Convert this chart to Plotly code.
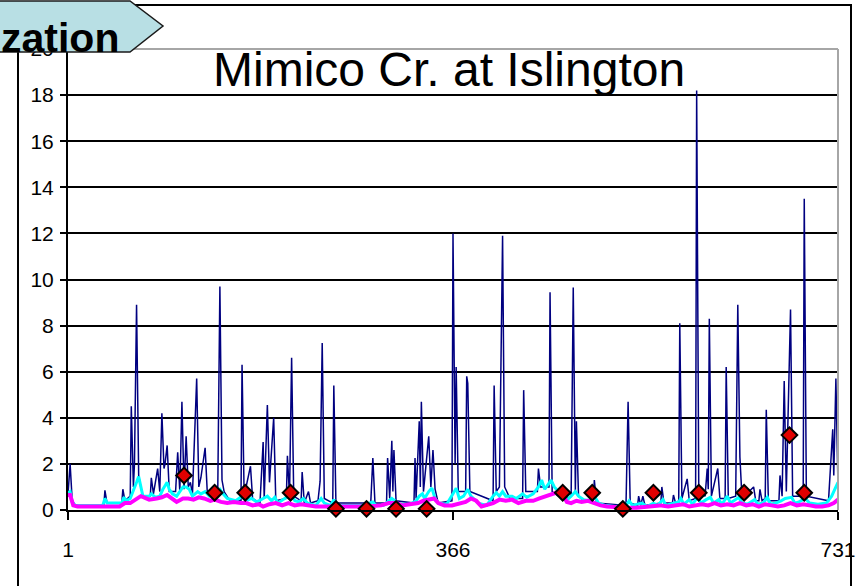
import plotly.graph_objects as go

# Daily flow (m3/s) vertices for the total streamflow hydrograph
flow_day = [1, 3, 5, 8, 35, 36, 38, 52, 53, 55, 60, 61, 63, 64, 66, 68, 70, 72, 79, 80,
            82, 86, 88, 90, 92, 93, 95, 97, 103, 105, 107, 109, 111, 113, 115, 117, 119, 123, 125, 127,
            131, 133, 143, 145, 147, 149, 153, 155, 165, 166, 168, 174, 176, 183, 186, 187, 190, 192, 196, 198,
            208, 209, 211, 213, 215, 222, 223, 225, 229, 231, 238, 240, 242, 244, 252, 253, 255, 288, 290, 292,
            303, 304, 306, 308, 309, 310, 312, 329, 330, 331, 334, 335, 336, 338, 343, 345, 347, 349, 352, 365,
            366, 368, 369, 371, 378, 379, 380, 382, 404, 405, 407, 410, 413, 415, 420, 432, 433, 435, 446, 447,
            449, 457, 458, 460, 466, 469, 476, 478, 480, 482, 483, 485, 490, 499, 500, 502, 530, 532, 534, 541,
            542, 544, 546, 548, 563, 564, 566, 574, 575, 577, 580, 581, 583, 588, 590, 596, 597, 599, 605, 607,
            608, 609, 611, 617, 619, 624, 625, 627, 634, 636, 638, 640, 651, 653, 656, 657, 659, 662, 663, 665,
            675, 676, 678, 680, 682, 686, 688, 698, 699, 701, 722, 726, 727, 729, 731]
flow_val = [0.7, 2.0, 0.4, 0.2, 0.2, 0.85, 0.3, 0.3, 0.9, 0.4, 0.6, 4.5, 1.0, 2.0, 8.9, 1.5, 1.0, 0.6, 0.6, 1.4,
            0.7, 1.8, 0.8, 4.2, 1.8, 2.0, 2.8, 0.8, 0.8, 2.5, 0.8, 4.7, 0.9, 3.2, 1.0, 1.2, 0.7, 5.7, 1.0, 1.4,
            2.7, 0.8, 0.9, 9.7, 1.3, 0.8, 0.5, 0.4, 0.4, 6.3, 0.6, 1.9, 0.5, 0.3, 2.95, 0.5, 4.55, 1.2, 4.0, 0.4,
            0.5, 2.35, 0.6, 6.6, 0.6, 0.4, 1.65, 0.3, 0.8, 0.3, 0.4, 1.25, 7.25, 0.5, 0.3, 5.4, 0.3, 0.3, 2.25, 0.3,
            0.3, 2.25, 0.5, 3.0, 0.8, 2.6, 0.4, 0.3, 2.25, 0.5, 3.85, 1.0, 4.7, 0.8, 3.2, 1.0, 2.6, 0.9, 0.3, 0.4,
            12.0, 2.0, 6.2, 0.8, 0.8, 5.8, 5.5, 0.8, 0.4, 5.4, 0.8, 1.0, 11.9, 1.0, 0.5, 0.5, 5.2, 0.8, 0.8, 1.8,
            1.0, 1.0, 9.45, 0.8, 0.6, 0.7, 0.5, 0.6, 9.65, 0.8, 3.85, 0.6, 0.4, 0.4, 1.3, 0.3, 0.2, 4.7, 0.3, 0.2,
            0.6, 0.2, 0.6, 0.2, 0.3, 1.0, 0.3, 0.3, 0.65, 0.3, 0.4, 8.1, 0.5, 1.35, 0.4, 0.5, 18.2, 0.8, 0.6, 1.8,
            0.9, 8.3, 0.6, 1.8, 0.5, 0.5, 6.2, 0.5, 0.6, 8.9, 2.3, 0.5, 1.0, 0.4, 0.4, 0.9, 0.4, 0.5, 4.35, 0.4,
            0.4, 1.5, 0.6, 5.6, 0.8, 8.7, 0.6, 0.6, 13.5, 0.6, 0.4, 3.5, 1.5, 5.7, 1.0]

# Filtered flow vertices
filt_day = [1, 3, 5, 8, 34, 36, 38, 52, 54, 56, 60, 63, 66, 68, 70, 72, 78, 80, 84, 88,
            91, 95, 97, 100, 104, 107, 110, 113, 116, 119, 124, 127, 131, 135, 140, 145, 148, 152, 156, 160,
            166, 170, 175, 180, 186, 190, 194, 197, 200, 205, 210, 213, 216, 220, 224, 228, 236, 241, 244, 250,
            253, 256, 280, 290, 293, 300, 304, 308, 311, 314, 325, 331, 334, 337, 339, 343, 346, 349, 352, 360,
            366, 369, 372, 376, 380, 383, 390, 398, 404, 407, 410, 413, 416, 422, 426, 432, 436, 442, 447, 450,
            453, 457, 459, 462, 466, 470, 474, 478, 482, 485, 490, 496, 500, 504, 510, 520, 530, 533, 536, 545,
            550, 556, 560, 565, 568, 575, 580, 582, 585, 590, 593, 598, 601, 606, 610, 613, 618, 621, 626, 629,
            637, 640, 645, 652, 655, 660, 664, 667, 672, 677, 681, 687, 690, 694, 700, 704, 712, 720, 725, 729,
            731]
filt_val = [0.75, 0.8, 0.35, 0.2, 0.2, 0.5, 0.3, 0.3, 0.55, 0.4, 0.5, 0.9, 1.2, 1.45, 1.0, 0.6, 0.6, 0.7, 0.55, 0.6,
            0.9, 1.2, 0.9, 0.7, 0.6, 0.8, 1.0, 1.0, 0.9, 0.6, 0.8, 0.7, 0.8, 0.6, 0.7, 0.9, 0.7, 0.5, 0.45, 0.4,
            0.6, 0.4, 0.5, 0.35, 0.5, 0.6, 0.4, 0.55, 0.3, 0.45, 0.6, 0.7, 0.4, 0.35, 0.5, 0.3, 0.2, 0.5, 0.3, 0.2,
            0.45, 0.2, 0.2, 0.35, 0.2, 0.2, 0.35, 0.5, 0.4, 0.25, 0.25, 0.4, 0.6, 0.7, 0.5, 0.8, 0.95, 0.5, 0.3, 0.25,
            0.7, 0.95, 0.5, 0.6, 0.9, 0.6, 0.3, 0.2, 0.6, 0.75, 0.6, 0.8, 0.6, 0.6, 0.5, 0.7, 0.55, 0.7, 1.0, 1.3,
            0.9, 1.2, 1.3, 1.0, 0.8, 0.55, 0.45, 0.6, 0.8, 0.6, 0.45, 0.4, 0.6, 0.3, 0.2, 0.15, 0.2, 0.4, 0.2, 0.3,
            0.15, 0.3, 0.2, 0.45, 0.2, 0.3, 0.35, 0.5, 0.25, 0.45, 0.25, 0.55, 0.3, 0.45, 0.55, 0.3, 0.45, 0.25, 0.6, 0.3,
            0.55, 0.3, 0.25, 0.45, 0.25, 0.3, 0.55, 0.25, 0.3, 0.4, 0.5, 0.55, 0.3, 0.35, 0.5, 0.3, 0.25, 0.3, 0.6, 1.0,
            1.2]

# Baseflow vertices
base_day = [1, 3, 6, 10, 50, 55, 60, 65, 70, 73, 78, 85, 90, 95, 100, 104, 110, 115, 120, 125,
            130, 136, 140, 146, 152, 158, 165, 170, 176, 182, 186, 192, 198, 204, 210, 216, 222, 228, 236, 244,
            250, 256, 270, 285, 298, 305, 312, 318, 325, 333, 338, 343, 348, 352, 358, 365, 372, 378, 383, 388,
            393, 397, 404, 410, 416, 422, 428, 435, 442, 448, 455, 462, 467, 470, 474, 478, 483, 488, 494, 500,
            506, 512, 522, 530, 540, 550, 556, 562, 570, 578, 584, 590, 596, 602, 608, 614, 620, 626, 632, 638,
            644, 650, 656, 662, 668, 674, 680, 686, 692, 698, 704, 710, 716, 722, 727, 731]
base_val = [0.65, 0.65, 0.2, 0.15, 0.15, 0.3, 0.3, 0.45, 0.6, 0.55, 0.45, 0.5, 0.55, 0.65, 0.5, 0.35, 0.5, 0.5, 0.45, 0.55,
            0.5, 0.4, 0.45, 0.35, 0.3, 0.35, 0.3, 0.3, 0.2, 0.25, 0.15, 0.25, 0.3, 0.2, 0.3, 0.2, 0.25, 0.2, 0.15, 0.15,
            0.15, 0.15, 0.15, 0.15, 0.2, 0.3, 0.3, 0.2, 0.25, 0.3, 0.4, 0.45, 0.5, 0.3, 0.2, 0.2, 0.3, 0.35, 0.5, 0.4,
            0.15, 0.2, 0.3, 0.45, 0.4, 0.45, 0.3, 0.4, 0.4, 0.5, 0.6, 0.7, 0.8, 0.65, 0.35, 0.3, 0.4, 0.35, 0.4, 0.3,
            0.2, 0.15, 0.1, 0.1, 0.1, 0.15, 0.15, 0.2, 0.15, 0.2, 0.25, 0.15, 0.2, 0.25, 0.2, 0.3, 0.2, 0.25, 0.2, 0.3,
            0.2, 0.25, 0.15, 0.25, 0.2, 0.15, 0.2, 0.3, 0.2, 0.25, 0.2, 0.15, 0.15, 0.2, 0.3, 0.45]

# Grab samples
sample_day = [111, 140, 169, 212, 255, 284, 312, 341, 470, 498, 527, 556, 599, 642, 685, 699]
sample_val = [1.5, 0.75, 0.75, 0.75, 0.05, 0.05, 0.05, 0.05, 0.75, 0.75, 0.05, 0.75, 0.75, 0.75, 3.25, 0.75]

x_ticks = [1, 366, 731]
y_ticks = list(range(0, 21, 2))

TITLE = "Mimico Cr. at Islington"
TAB_TEXT = "zation"

W, H = 860, 586
L, R, T, B = 68, 838, 49, 510  # plot area in pixels


def px(x):
    return (x - L) / (R - L)


def py(y):
    return (B - y) / (B - T)


fig = go.Figure()
fig.add_trace(go.Scatter(x=flow_day, y=flow_val, mode="lines",
                         line=dict(color="#000080", width=1.5), showlegend=False))
fig.add_trace(go.Scatter(x=filt_day, y=filt_val, mode="lines",
                         line=dict(color="#00ffff", width=3), showlegend=False))
fig.add_trace(go.Scatter(x=base_day, y=base_val, mode="lines",
                         line=dict(color="#ff00ff", width=4), showlegend=False))
fig.add_trace(go.Scatter(x=sample_day, y=sample_val, mode="markers",
                         marker=dict(symbol="diamond", size=12, color="#e00000",
                                     line=dict(color="black", width=2)),
                         cliponaxis=False, showlegend=False))

tick_font = dict(family="Liberation Sans Narrow, Arial Narrow, Liberation Sans, Arial", size=21, color="black")

fig.update_layout(
    width=W, height=H,
    margin=dict(l=L, r=W - R, t=T, b=H - B, pad=0, autoexpand=False),
    paper_bgcolor="white", plot_bgcolor="white",
    xaxis=dict(range=[1, 731], tickvals=x_ticks, ticktext=[str(v) for v in x_ticks],
               showgrid=False, zeroline=False, showline=True, linecolor="black", linewidth=2,
               ticks="outside", ticklen=8, tickwidth=2, tickcolor="black", automargin=False,
               tickfont=tick_font, ticklabelstandoff=12),
    yaxis=dict(range=[0, 20], tickvals=y_ticks, ticktext=[str(v) for v in y_ticks],
               showgrid=True, gridcolor="black", gridwidth=2, zeroline=False,
               showline=True, linecolor="black", linewidth=2, automargin=False,
               ticks="outside", ticklen=6, tickwidth=2, tickcolor="black",
               tickfont=tick_font, ticklabelstandoff=2),
    font=dict(family="Liberation Sans, Arial", color="black"),
)

shapes = [
    # outer frame
    dict(type="rect", xref="paper", yref="paper", x0=px(18), x1=px(851), y0=py(5), y1=py(600),
         line=dict(color="black", width=2), fillcolor="rgba(0,0,0,0)", layer="below"),
    # plot-area border (top and right)
    dict(type="line", xref="paper", yref="paper", x0=0, x1=1, y0=1, y1=1,
         line=dict(color="#a6a6a6", width=2), layer="above"),
    dict(type="line", xref="paper", yref="paper", x0=1, x1=1, y0=0, y1=1,
         line=dict(color="#a6a6a6", width=2), layer="above"),
]
# tab shape at the top-left
tab = [(-5, 1), (130, 1), (163, 26), (130, 52), (-5, 52)]
path = "M " + " L ".join(f"{px(a):.5f},{py(b):.5f}" for a, b in tab) + " Z"
shapes.append(dict(type="path", xref="paper", yref="paper", path=path,
                   fillcolor="#b8dfe4", line=dict(color="#1a1a1a", width=1.5), layer="above"))
fig.update_layout(shapes=shapes)

fig.add_annotation(text=TAB_TEXT, xref="paper", yref="paper", x=px(121), y=py(38),
                   xanchor="right", yanchor="middle", showarrow=False,
                   font=dict(family="Liberation Sans, Arial", size=41, color="black", weight="bold"))
fig.add_annotation(text=TITLE, xref="paper", yref="paper", x=px(449), y=py(70),
                   xanchor="center", yanchor="middle", showarrow=False,
                   font=dict(family="Liberation Sans, Arial", size=48, color="black"))

fig.write_html("out.html")
